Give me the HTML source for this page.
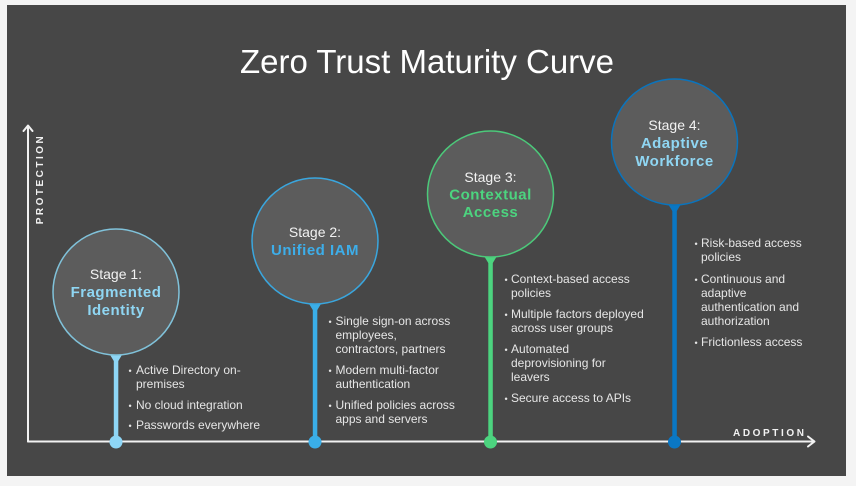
<!DOCTYPE html>
<html>
<head>
<meta charset="utf-8">
<style>
  html,body{margin:0;padding:0;background:#f4f4f4;}
  body{width:856px;height:486px;overflow:hidden;}
  svg{display:block;}
  text{font-family:"Liberation Sans", Arial, sans-serif;}
  .b{font-size:12px;fill:#e6e6e6;}
  .dot{font-size:9px;fill:#e6e6e6;}
  .st{font-size:14px;fill:#f2f2f2;text-anchor:middle;}
  .nm{font-size:15px;font-weight:bold;text-anchor:middle;letter-spacing:0.5px;}
</style>
</head>
<body>
<svg width="856" height="486" viewBox="0 0 856 486" xmlns="http://www.w3.org/2000/svg">
  <rect x="0" y="0" width="856" height="486" fill="#f4f4f4"/>
  <rect x="7" y="5" width="839" height="471" fill="#474747"/>

  <!-- Title -->
  <text x="427" y="73" font-size="33" fill="#ffffff" text-anchor="middle">Zero Trust Maturity Curve</text>

  <!-- Axes -->
  <g stroke="#f2f2f2" stroke-width="2" fill="none" stroke-linecap="round" stroke-linejoin="round">
    <line x1="28" y1="126" x2="28" y2="441.5"/>
    <line x1="28" y1="441.5" x2="814" y2="441.5"/>
    <polyline points="23.5,131 28,125.5 32.5,131"/>
    <polyline points="808,436.5 814.5,441.5 808,446.5"/>
  </g>
  <text transform="translate(43,179) rotate(-90)" font-size="10" font-weight="bold" fill="#f2f2f2" text-anchor="middle" letter-spacing="2.5">PROTECTION</text>
  <text x="733" y="436" font-size="10" font-weight="bold" fill="#f2f2f2" letter-spacing="2.6">ADOPTION</text>

  <!-- Stage 1 -->
  <g>
    <rect x="113.8" y="355" width="4.5" height="87" fill="#8ed6f6"/>
    <path d="M109.5,354 L122.5,354 L118.3,361 L113.8,361 Z" fill="#8ed6f6"/>
    <circle cx="116" cy="442" r="6.5" fill="#8ed6f6"/>
    <circle cx="116" cy="292" r="63" fill="#5c5c5c" stroke="#80c2da" stroke-width="1.5"/>
    <text class="st" x="116" y="279">Stage 1:</text>
    <text class="nm" x="116" y="297" fill="#8fd6f3">Fragmented</text>
    <text class="nm" x="116" y="315" fill="#8fd6f3">Identity</text>
    <text class="dot" x="128.5" y="374">•</text>
    <text class="b" x="136" y="374">Active Directory on-</text>
    <text class="b" x="136" y="388">premises</text>
    <text class="dot" x="128.5" y="409">•</text>
    <text class="b" x="136" y="409">No cloud integration</text>
    <text class="dot" x="128.5" y="429">•</text>
    <text class="b" x="136" y="429">Passwords everywhere</text>
  </g>

  <!-- Stage 2 -->
  <g>
    <rect x="312.8" y="304" width="4.5" height="138" fill="#3aaee8"/>
    <path d="M308.5,303 L321.5,303 L317.3,310 L312.8,310 Z" fill="#3aaee8"/>
    <circle cx="315" cy="442" r="6.5" fill="#3aaee8"/>
    <circle cx="315" cy="241" r="63" fill="#5c5c5c" stroke="#3aa6de" stroke-width="1.5"/>
    <text class="st" x="315" y="237">Stage 2:</text>
    <text class="nm" x="315" y="255" fill="#3daeea">Unified IAM</text>
    <text class="dot" x="328.5" y="325">•</text>
    <text class="b" x="335.5" y="325">Single sign-on across</text>
    <text class="b" x="335.5" y="339">employees,</text>
    <text class="b" x="335.5" y="353">contractors, partners</text>
    <text class="dot" x="328.5" y="374">•</text>
    <text class="b" x="335.5" y="374">Modern multi-factor</text>
    <text class="b" x="335.5" y="388">authentication</text>
    <text class="dot" x="328.5" y="409">•</text>
    <text class="b" x="335.5" y="409">Unified policies across</text>
    <text class="b" x="335.5" y="423">apps and servers</text>
  </g>

  <!-- Stage 3 -->
  <g>
    <rect x="488.3" y="257" width="4.5" height="185" fill="#4cd47f"/>
    <path d="M484,256 L497,256 L492.8,263 L488.3,263 Z" fill="#4cd47f"/>
    <circle cx="490.5" cy="442" r="6.5" fill="#4cd47f"/>
    <circle cx="490.5" cy="194" r="63" fill="#5c5c5c" stroke="#4cc97a" stroke-width="1.5"/>
    <text class="st" x="490.5" y="182">Stage 3:</text>
    <text class="nm" x="490.5" y="199.5" fill="#4cd47f">Contextual</text>
    <text class="nm" x="490.5" y="217" fill="#4cd47f">Access</text>
    <text class="dot" x="504.5" y="283">•</text>
    <text class="b" x="511" y="283">Context-based access</text>
    <text class="b" x="511" y="297">policies</text>
    <text class="dot" x="504.5" y="318">•</text>
    <text class="b" x="511" y="318">Multiple factors deployed</text>
    <text class="b" x="511" y="332">across user groups</text>
    <text class="dot" x="504.5" y="353">•</text>
    <text class="b" x="511" y="353">Automated</text>
    <text class="b" x="511" y="367">deprovisioning for</text>
    <text class="b" x="511" y="381">leavers</text>
    <text class="dot" x="504.5" y="402">•</text>
    <text class="b" x="511" y="402">Secure access to APIs</text>
  </g>

  <!-- Stage 4 -->
  <g>
    <rect x="672.3" y="205" width="4.5" height="237" fill="#0a77c4"/>
    <path d="M668,204 L681,204 L676.8,211 L672.3,211 Z" fill="#0a77c4"/>
    <circle cx="674.5" cy="442" r="6.5" fill="#0a77c4"/>
    <circle cx="674.5" cy="142" r="63" fill="#5c5c5c" stroke="#0a74bd" stroke-width="1.5"/>
    <text class="st" x="674.5" y="130">Stage 4:</text>
    <text class="nm" x="674.5" y="148" fill="#8fd6f3">Adaptive</text>
    <text class="nm" x="674.5" y="166" fill="#8fd6f3">Workforce</text>
    <text class="dot" x="694.5" y="247">•</text>
    <text class="b" x="701" y="247">Risk-based access</text>
    <text class="b" x="701" y="261">policies</text>
    <text class="dot" x="694.5" y="283">•</text>
    <text class="b" x="701" y="283">Continuous and</text>
    <text class="b" x="701" y="297">adaptive</text>
    <text class="b" x="701" y="311">authentication and</text>
    <text class="b" x="701" y="325">authorization</text>
    <text class="dot" x="694.5" y="346">•</text>
    <text class="b" x="701" y="346">Frictionless access</text>
  </g>
</svg>
</body>
</html>
